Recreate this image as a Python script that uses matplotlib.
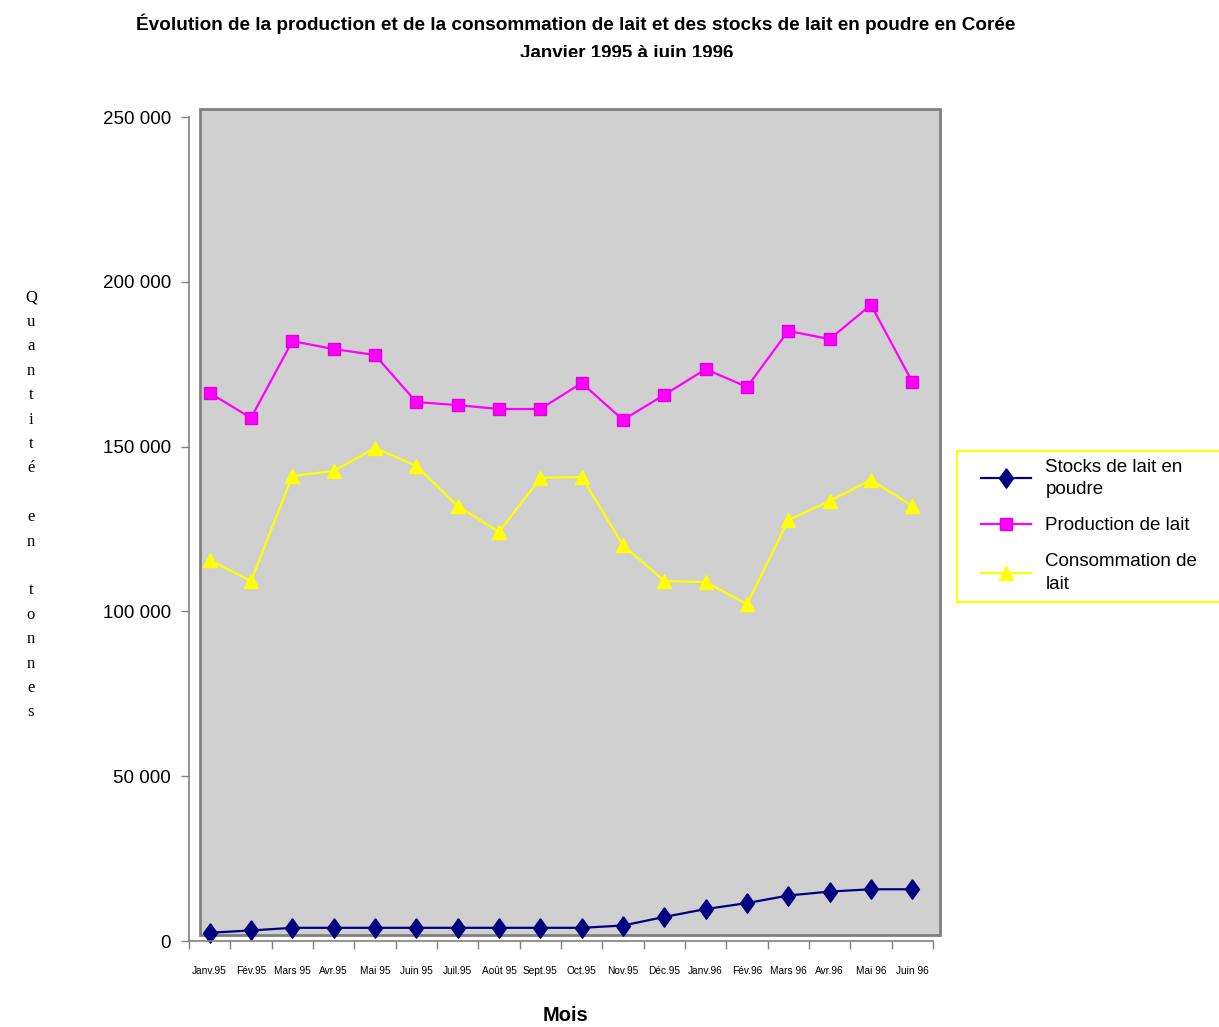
import numpy as np
import matplotlib
matplotlib.use("Agg")
import matplotlib.pyplot as plt
from matplotlib.patches import Rectangle

plt.rcParams['font.family'] = ['Liberation Sans', 'DejaVu Sans']

months = ["Janv.95", "Fév.95", "Mars 95", "Avr.95", "Mai 95", "Juin 95",
          "Juil.95", "Août 95", "Sept.95", "Oct.95", "Nov.95", "Déc.95",
          "Janv.96", "Fév.96", "Mars 96", "Avr.96", "Mai 96", "Juin 96"]

stocks = [2500, 3200, 4000, 4000, 4000, 4000, 4000, 4000, 4000, 4000,
          4700, 7300, 9700, 11500, 13800, 15000, 15700, 15700]
production = [166300, 158700, 182000, 179600, 177800, 163500, 162600, 161400,
              161400, 169300, 158100, 165700, 173500, 168100, 185100, 182600,
              193000, 169600]
consommation = [115600, 109200, 141100, 142600, 149600, 144100, 132000, 124100,
                140500, 140800, 120100, 109200, 108900, 102200, 127700, 133500,
                139900, 132000]

W, H = 1219, 1027
fig = plt.figure(figsize=(W / 100, H / 100), dpi=100)

# gray plot area with its frame (behind the axes)
bg = Rectangle((200 / W, 1 - 935 / H), 740 / W, 826 / H, transform=fig.transFigure,
               facecolor="#D0D0D0", edgecolor="#808080", lw=2, zorder=-1)
fig.patches.append(bg)

ax = fig.add_axes([189 / W, 1 - 941 / H, 744 / W, 824 / H])
ax.set_zorder(2)
ax.patch.set_alpha(0)

x = np.arange(len(months))
diamond = [(0, 1), (0.72, 0), (0, -1), (-0.72, 0), (0, 1)]
ax.plot(x, stocks, color="#000080", lw=1.6, marker=diamond, ms=14,
        label="Stocks de lait en\npoudre", clip_on=False)
ax.plot(x, production, color="#FF00FF", lw=1.6, marker="s", ms=8.5,
        mec="#E000E0", label="Production de lait", clip_on=False)
ax.plot(x, consommation, color="#FFFF00", lw=1.6, marker="^", ms=10,
        label="Consommation de\nlait", clip_on=False)

ax.set_xlim(-0.5, len(months) - 0.5)
ax.set_ylim(0, 250000)

ax.set_yticks(np.arange(0, 250001, 50000))
ax.set_yticklabels(["0", "50 000", "100 000", "150 000", "200 000", "250 000"],
                   fontsize=13.5)
ax.set_xticks(np.arange(-0.5, len(months), 1.0))
ax.set_xticklabels([])
ax.set_xticks(x, minor=True)
ax.set_xticklabels(months, minor=True, fontsize=7.3)
ax.tick_params(axis="x", which="minor", length=0, pad=18)
ax.tick_params(axis="x", which="major", length=6, color="#808080", width=1)
ax.tick_params(axis="y", length=6, color="#808080", width=1, pad=7)

for s in ["top", "right"]:
    ax.spines[s].set_visible(False)
for s in ["left", "bottom"]:
    ax.spines[s].set_color("#808080")
    ax.spines[s].set_linewidth(1.2)

# titles
fig.text(576 / W, 1 - 24 / H,
         "Évolution de la production et de la consommation de lait et des stocks de lait en poudre en Corée",
         ha="center", va="center", fontsize=13.7, fontweight="bold")
fig.text(627 / W, 1 - 53 / H, "Janvier 1995 à juin 1996", ha="center", va="center",
         fontsize=13.5, fontweight="bold")
# the second title line is cut off in the original
fig.patches.append(Rectangle((450 / W, 1 - 75 / H), 350 / W, 18 / H,
                             transform=fig.transFigure, facecolor="white",
                             edgecolor="none", zorder=5))

# axis labels
ylab = "\n".join(list("Quantité") + [""] + list("en") + [""] + list("tonnes"))
fig.text(31 / W, 1 - 505 / H, ylab, ha="center", va="center", fontsize=12,
         family=["Liberation Serif"], linespacing=1.7)
fig.text(565 / W, 1 - 1025 / H, "Mois", ha="center", va="bottom",
         fontsize=14.5, fontweight="bold")

# legend frame drawn separately, it runs off the right edge
fig.patches.append(Rectangle((957 / W, 1 - 602 / H), 280 / W, 151 / H,
                             transform=fig.transFigure, facecolor="white",
                             edgecolor="#FFFF00", lw=1.5, zorder=3))
leg = fig.legend(loc="upper left", bbox_to_anchor=(975 / W, 1 - 453 / H),
                 fontsize=13.5, frameon=False, handlelength=2.7,
                 handletextpad=0.75, borderpad=0.3, labelspacing=1.0,
                 borderaxespad=0)
leg.set_zorder(6)
for t in leg.get_texts():
    t.set_linespacing(1.45)

fig.savefig("out.png", dpi=100)
